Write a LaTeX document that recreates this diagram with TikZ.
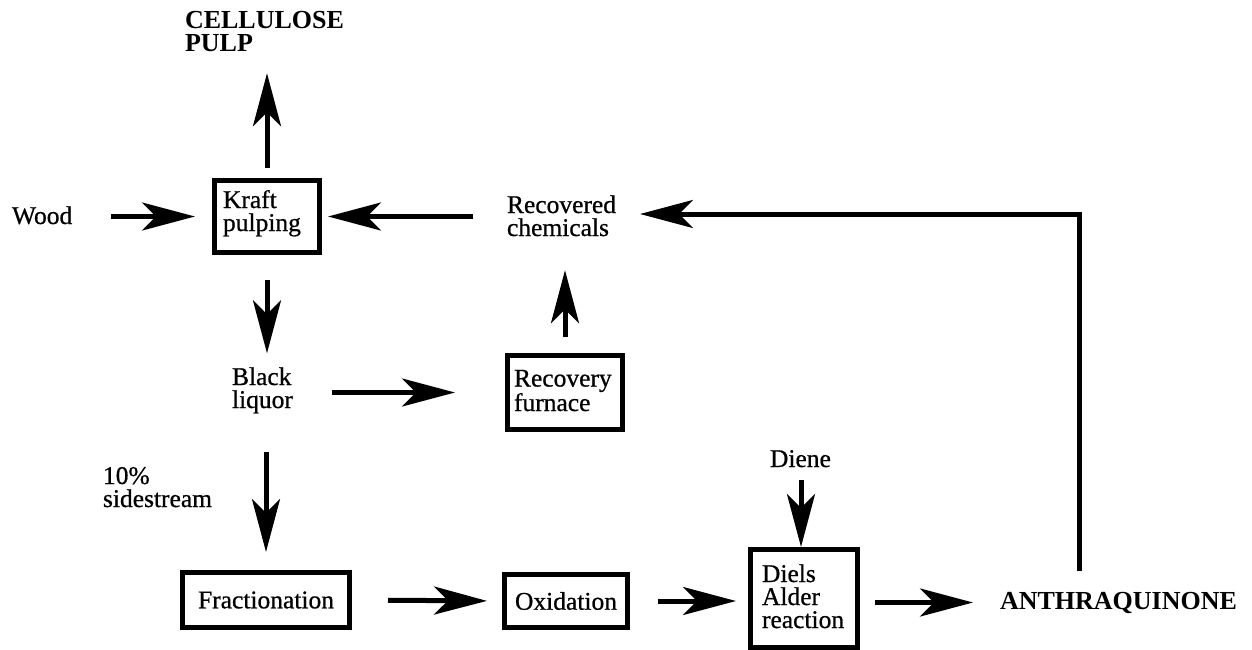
\documentclass[tikz,border=0pt]{standalone}
\usepackage{fontspec}
\setmainfont{Liberation Serif}[UprightFeatures={FakeBold=0.7}]
\usetikzlibrary{arrows.meta}
\begin{document}
\begin{tikzpicture}[x=1pt,y=-1pt,
  lbl/.style={inner sep=0pt, outer sep=0pt, anchor=base west, align=left, font=\fontsize{25.5}{23}\selectfont},
  blbl/.style={inner sep=0pt, outer sep=0pt, anchor=base west, align=left, font=\fontsize{26}{23.5}\selectfont\bfseries},
  procbox/.style={draw, line width=5pt, inner sep=0pt, align=center, font=\fontsize{25.5}{23}\selectfont},
  arr/.style={line width=5pt, -{Stealth[length=53pt,width=28pt,inset=14pt]}},
  flowline/.style={line width=5pt}]
\useasboundingbox (0,0) rectangle (1252,650);

% text labels (anchor = baseline of the last line)
\node[blbl] (pulp) at (185,52) {CELLULOSE\\PULP};
\node[lbl] (wood) at (12,224) {Wood};
\node[lbl] (recov) at (507,236) {Recovered\\chemicals};
\node[lbl] (black) at (232,408) {Black\\liquor};
\node[lbl] (side) at (103,507) {10\%\\sidestream};
\node[lbl] (diene) at (770,467) {Diene};
\node[blbl] (anth) at (1000,609) {ANTHRAQUINONE};

% process boxes
\node[procbox, minimum width=105, minimum height=72] (kraft) at (267,216.5) {};
\node[lbl] (krafttext) at (223,231) {Kraft\\pulping};
\node[procbox, minimum width=115, minimum height=74] (furnace) at (565,392.5) {};
\node[lbl] (furnacetext) at (514,411) {Recovery\\furnace};
\node[procbox, minimum width=167, minimum height=55] (frac) at (266,600) {\raisebox{-3pt}{Fractionation}};
\node[procbox, minimum width=123, minimum height=53] (ox) at (566,601) {\raisebox{-3pt}{Oxidation}};
\node[procbox, minimum width=107, minimum height=98] (diels) at (804,598.5) {};
\node[lbl] (dielstext) at (762,628) {Diels\\Alder\\reaction};

\coordinate (corner) at (1079,214);

% connectors
\draw[arr, shorten <=10pt, shorten >=21pt] (kraft.north) -- (kraft.north |- pulp.south);
\draw[arr, shorten <=39pt, shorten >=17pt] (wood.east |- kraft.west) -- (kraft.west);
\draw[arr, shorten <=34pt, shorten >=6pt] (recov.west |- kraft.east) -- (kraft.east);
\draw[arr, shorten <=21pt, shorten >=24pt] (anth.north -| corner) -- (corner) -- (recov.east |- corner);
\draw[arr, shorten <=25pt, shorten >=14pt] (kraft.south) -- (kraft.south |- black.north);
\draw[arr, shorten <=39pt, shorten >=50pt] (black.east |- furnace.west) -- (furnace.west);
\draw[arr, shorten <=16pt, shorten >=34pt] (furnace.north) -- (furnace.north |- recov.south);
\draw[arr, shorten <=39pt, shorten >=18pt] (frac.north |- black.south) -- (frac.north);
\draw[arr, shorten <=36pt, shorten >=15pt] (frac.east) -- (ox.west);
\draw[arr, shorten <=28pt, shorten >=12pt] (ox.east) -- (diels.west |- ox.east);
\draw[arr, shorten <=13pt] ([xshift=-3pt]diels.north |- diene.south) -- ([xshift=-3pt]diels.north);
\draw[arr, shorten <=15pt, shorten >=27pt] (diels.east |- anth.west) -- (anth.west);
\end{tikzpicture}
\end{document}
